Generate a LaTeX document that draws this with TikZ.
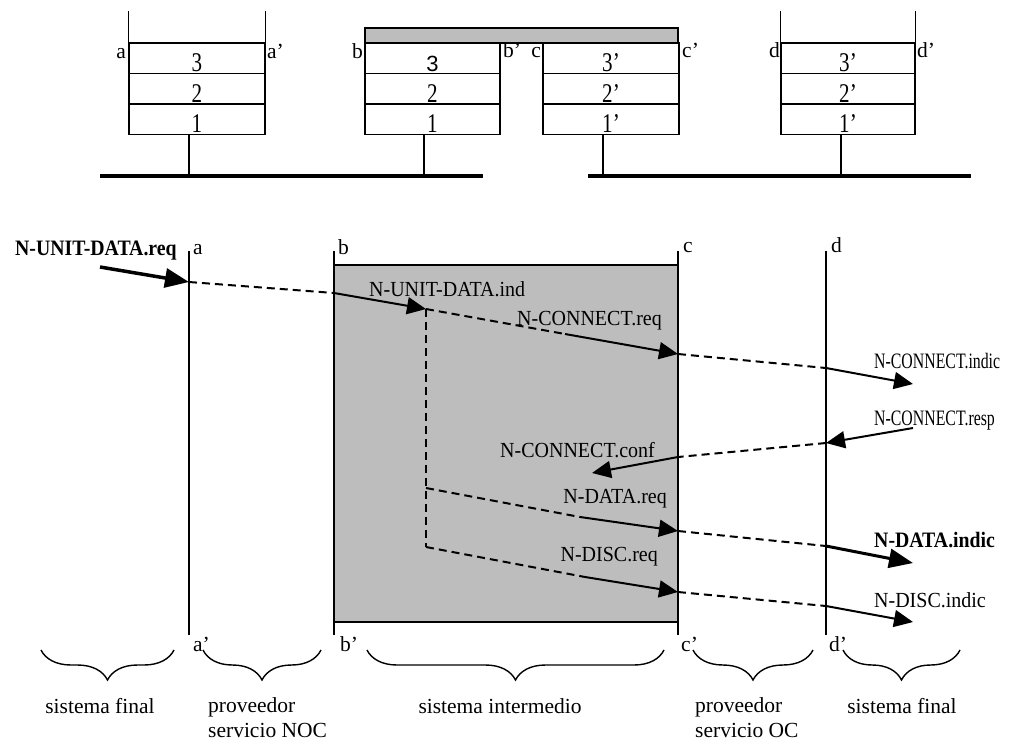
\documentclass[tikz,border=0pt]{standalone}
\usepackage{fontspec}
\setmainfont{Liberation Serif}
\newfontfamily\narrowserif{Liberation Serif}[FakeStretch=0.72]
\newfontfamily\digitserif{Liberation Serif}[FakeStretch=0.78]
\newfontfamily\labelserif{Liberation Serif}[FakeStretch=0.93]
\newfontfamily\labelbold{Liberation Serif}[FakeStretch=0.9]
\newfontfamily\plainsans{Liberation Sans}
\usetikzlibrary{arrows.meta,decorations.pathreplacing}
\definecolor{shade}{gray}{0.74}

\begin{document}
\begin{tikzpicture}[x=1pt,y=-1pt,
  rule/.style={line width=1.4pt},
  layer/.style={draw,line width=1.4pt,minimum height=30.5pt,inner sep=0pt,
    text height=27pt,text depth=0pt,
    font=\digitserif\fontsize{27}{30}\selectfont},
  bus/.style={line width=4.5pt},
  txt/.style={inner sep=0pt,font=\labelserif\fontsize{21.5}{25}\selectfont},
  bigtxt/.style={inner sep=0pt,font=\fontsize{21.5}{25}\selectfont},
  narrowtxt/.style={inner sep=0pt,font=\narrowserif\fontsize{22}{26}\selectfont},
  boldtxt/.style={inner sep=0pt,font=\labelbold\bfseries\fontsize{22}{26}\selectfont},
  dashline/.style={line width=2pt,dash pattern=on 8pt off 5pt},
  sig/.style={line width=2pt,-{Triangle[length=19pt,width=17pt]}},
  bigsig/.style={line width=3.5pt,-{Triangle[length=24pt,width=19pt]}},
  curly/.style={decorate,decoration={brace,mirror,amplitude=30pt},line width=1.4pt},
  shaded/.style={draw,fill=shade,inner sep=0pt}]

\useasboundingbox (0,0) rectangle (1034,740);

% ---------------- protocol stacks ----------------
\node[shaded,rule,minimum width=313pt,minimum height=15pt] (bar) at (521.5,35.5) {};

\node[layer,minimum width=136pt] (A3) at (197,58.2) {3};
\node[layer,minimum width=136pt] (A2) at (197,88.7) {2};
\node[layer,minimum width=136pt] (A1) at (197,119.2) {1};

\node[layer,minimum width=135pt] (B3) at (432.5,58.2) {\plainsans\fontsize{22}{25}\selectfont 3};
\node[layer,minimum width=135pt] (B2) at (432.5,88.7) {2};
\node[layer,minimum width=135pt] (B1) at (432.5,119.2) {1};

\node[layer,minimum width=136pt] (C3) at (611,58.2) {3’};
\node[layer,minimum width=136pt] (C2) at (611,88.7) {2’};
\node[layer,minimum width=136pt] (C1) at (611,119.2) {1’};

\node[layer,minimum width=134pt] (D3) at (848,58.2) {3’};
\node[layer,minimum width=134pt] (D2) at (848,88.7) {2’};
\node[layer,minimum width=134pt] (D1) at (848,119.2) {1’};

\draw[rule] (A3.north west) -- ++(0,-31);
\draw[rule] (A3.north east) -- ++(0,-31);
\draw[rule] (D3.north west) -- ++(0,-31);
\draw[rule] (D3.north east) -- ++(0,-31);

% networks
\coordinate (busL1) at (100,176);
\coordinate (busR1) at (483,176);
\coordinate (busL2) at (588,176);
\coordinate (busR2) at (971,176);
\draw[bus] (busL1) -- (busR1);
\draw[bus] (busL2) -- (busR2);

\coordinate (stemA) at (189,176);
\coordinate (stemB) at (424,176);
\coordinate (stemC) at (603,176);
\coordinate (stemD) at (841,176);
\draw[rule] (stemA |- A1.south) -- (stemA);
\draw[rule] (stemB |- B1.south) -- (stemB);
\draw[rule] (stemC |- C1.south) -- (stemC);
\draw[rule] (stemD |- D1.south) -- (stemD);

% service access points
\node[bigtxt,anchor=base east] (la)  at (126,58) {a};
\node[bigtxt,anchor=base west] (laq) at (267,58) {a’};
\node[bigtxt,anchor=base east] (lb)  at (363,58) {b};
\node[bigtxt,anchor=base west] (lbq) at (503,57) {b’};
\node[bigtxt,anchor=base east] (lc)  at (541,57) {c};
\node[bigtxt,anchor=base west] (lcq) at (682,57) {c’};
\node[bigtxt,anchor=base east] (ld)  at (780,57) {d};
\node[bigtxt,anchor=base west] (ldq) at (917,57) {d’};

% ---------------- time sequence ----------------
\node[shaded,line width=1.6pt,minimum width=344pt,minimum height=357pt] (inter) at (506,443.5) {};

\coordinate (aT) at (189,251);  \coordinate (aB) at (189,635);
\coordinate (bT) at (334,251);  \coordinate (bB) at (334,635);
\coordinate (cT) at (678,251);  \coordinate (cB) at (678,635);
\coordinate (dT) at (826,251);  \coordinate (dB) at (826,635);
\draw[rule] (aT) -- (aB);
\draw[rule] (bT) -- (bB);
\draw[line width=1.8pt] (cT) -- (cB);
\draw[rule] (dT) -- (dB);

\node[bigtxt,anchor=base west] (ta)  at (193,254) {a};
\node[bigtxt,anchor=base west] (tb)  at (338,254) {b};
\node[bigtxt,anchor=base west] (tc)  at (683,252) {c};
\node[bigtxt,anchor=base west] (td)  at (831,252) {d};
\node[bigtxt,anchor=base west] (taq) at (193,651) {a’};
\node[bigtxt,anchor=base west] (tbq) at (340,651) {b’};
\node[bigtxt,anchor=base west] (tcq) at (681,651) {c’};
\node[bigtxt,anchor=base west] (tdq) at (829,651) {d’};

% points of the primitives
\coordinate (p0) at (100,267);
\coordinate (pa) at (189,282);
\coordinate (pb) at (334,293);
\coordinate (pi) at (426,309);
\coordinate (m1) at (565,334);
\coordinate (c1) at (678,354);
\coordinate (d1) at (826,368);
\coordinate (e1) at (913,384);
\coordinate (e2) at (913,428);
\coordinate (d2) at (826,443);
\coordinate (c2) at (678,457);
\coordinate (t2) at (592,473);
\coordinate (pr) at (426,488);
\coordinate (m3) at (580,517);
\coordinate (c3) at (678,531);
\coordinate (d3) at (826,546);
\coordinate (e3) at (913,563);
\coordinate (ps) at (426,547);
\coordinate (m4) at (585,577);
\coordinate (c4) at (678,592);
\coordinate (d4) at (826,606);
\coordinate (e4) at (913,622);

% N-UNIT-DATA
\draw[bigsig] (p0) -- (pa);
\draw[dashline] (pa) -- (pb);
\draw[sig] (pb) -- (pi);
\draw[dashline] (pi) -- (pr) -- (ps);

% N-CONNECT
\draw[dashline] (pi) -- (m1);
\draw[sig] (m1) -- (c1);
\draw[dashline] (c1) -- (d1);
\draw[sig] (d1) -- (e1);
\draw[sig] (e2) -- (d2);
\draw[dashline] (d2) -- (c2);
\draw[sig] (c2) -- (t2);

% N-DATA
\draw[dashline] (pr) -- (m3);
\draw[sig] (m3) -- (c3);
\draw[dashline] (c3) -- (d3);
\draw[bigsig,line width=3pt] (d3) -- (e3);

% N-DISC
\draw[dashline] (ps) -- (m4);
\draw[sig] (m4) -- (c4);
\draw[dashline] (c4) -- (d4);
\draw[sig] (d4) -- (e4);

% primitive names
\node[boldtxt,anchor=base west]   (nudr) at (15,255)  {N-UNIT-DATA.req};
\node[txt,anchor=base west]       (nudi) at (369,296) {N-UNIT-DATA.ind};
\node[txt,anchor=base east]       (ncrq) at (662,325) {N-CONNECT.req};
\node[narrowtxt,anchor=base west] (ncin) at (874,368) {N-CONNECT.indic};
\node[narrowtxt,anchor=base west] (ncrs) at (874,425) {N-CONNECT.resp};
\node[txt,anchor=base east]       (ncco) at (655,457) {N-CONNECT.conf};
\node[txt,anchor=base east]       (ndrq) at (667,503) {N-DATA.req};
\node[boldtxt,anchor=base west]   (ndin) at (874,547) {N-DATA.indic};
\node[txt,anchor=base east]       (nsrq) at (658,561) {N-DISC.req};
\node[txt,anchor=base west]       (nsin) at (874,607) {N-DISC.indic};

% ---------------- roles ----------------
\draw[curly] (41,650) -- (174,650);
\draw[curly] (203,650) -- (321,650);
\draw[curly] (367,650) -- (664,650);
\draw[curly] (693,650) -- (813,650);
\draw[curly] (843,650) -- (960,650);

\node[bigtxt,anchor=base] (r1) at (100,713) {sistema final};
\node[bigtxt,anchor=north west,align=left] (r2) at (208,697) {proveedor\\servicio NOC};
\node[bigtxt,anchor=base] (r3) at (500,713) {sistema intermedio};
\node[bigtxt,anchor=north west,align=left] (r4) at (695,697) {proveedor\\servicio OC};
\node[bigtxt,anchor=base] (r5) at (902,713) {sistema final};

\end{tikzpicture}
\end{document}
